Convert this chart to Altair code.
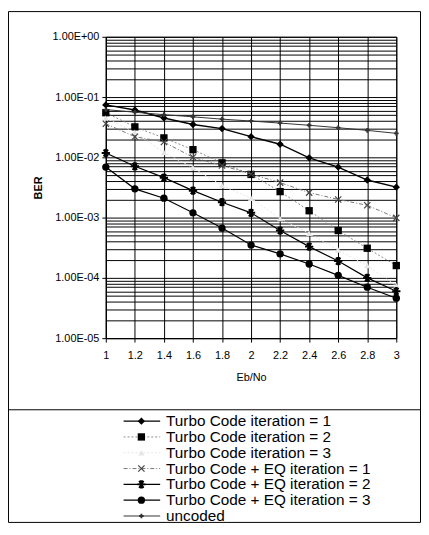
import altair as alt
import pandas as pd

# ---- data ----
x_vals = [1.0, 1.2, 1.4, 1.6, 1.8, 2.0, 2.2, 2.4, 2.6, 2.8, 3.0]
tc_iter1 = [0.074, 0.061, 0.045, 0.035, 0.030, 0.022, 0.0165, 0.0098, 0.0069, 0.0042, 0.0032]
tc_iter2 = [0.055, 0.032, 0.021, 0.0134, 0.0081, 0.0052, 0.0027, 0.0013, 0.00061, 0.00031, 0.00016]
tc_iter3 = [0.045, 0.026, 0.012, 0.0067, 0.0034, 0.0021, 0.00096, 0.00055, 0.00029, 0.00016, 0.000074]
eq_iter1 = [0.036, 0.022, 0.018, 0.0100, 0.0073, 0.0053, 0.0038, 0.0026, 0.0020, 0.0016, 0.00099]
eq_iter2 = [0.0118, 0.0071, 0.0046, 0.0028, 0.0018, 0.0012, 0.00061, 0.00033, 0.00019, 0.00010, 0.00006]
eq_iter3 = [0.0069, 0.0030, 0.0021, 0.0012, 0.00067, 0.00035, 0.00025, 0.00017, 0.00011, 0.00007, 0.000046]
uncoded = [0.062, 0.056, 0.051, 0.047, 0.043, 0.040, 0.037, 0.034, 0.031, 0.028, 0.025]

series_names = [
    "Turbo Code iteration = 1",
    "Turbo Code iteration = 2",
    "Turbo Code iteration = 3",
    "Turbo Code + EQ iteration = 1",
    "Turbo Code + EQ iteration = 2",
    "Turbo Code + EQ iteration = 3",
    "uncoded",
]
series_values = [tc_iter1, tc_iter2, tc_iter3, eq_iter1, eq_iter2, eq_iter3, uncoded]

y_tick_values = [m * 10.0 ** e for e in range(-5, 0) for m in range(1, 10)] + [1.0]

X_SHAPE = "M-1,-1L1,1M-1,1L1,-1"
ASTERISK = "M-1,0L1,0M-0.5,-0.87L0.5,0.87M-0.5,0.87L0.5,-0.87M0,-1L0,1"

styles = [
    dict(line=dict(color="black", strokeWidth=1.4),
         point=dict(shape="diamond", filled=True, color="black", size=55)),
    dict(line=dict(color="#8a8a8a", strokeWidth=1, strokeDash=[2, 2]),
         point=dict(shape="square", filled=True, color="black", size=55)),
    dict(line=dict(color="#e6e6e6", strokeWidth=1, strokeDash=[2, 2]),
         point=dict(shape="triangle-up", filled=True, color="#e6e6e6", size=40)),
    dict(line=dict(color="#777777", strokeWidth=1, strokeDash=[4, 2, 1, 2]),
         point=dict(shape=X_SHAPE, filled=False, color="#444444", size=40, strokeWidth=1.2)),
    dict(line=dict(color="black", strokeWidth=1.2),
         point=dict(shape=ASTERISK, filled=False, color="black", size=70, strokeWidth=2)),
    dict(line=dict(color="black", strokeWidth=1.2),
         point=dict(shape="circle", filled=True, color="black", size=55)),
    dict(line=dict(color="#333333", strokeWidth=1),
         point=dict(shape="cross", filled=True, color="#333333", size=22)),
]

FONT = "Liberation Sans"

exp_expr = "round(log(datum.value)/LN10)"
is_decade = f"abs(log(datum.value)/LN10 - {exp_expr}) < 0.001"
label_expr = (
    f"({is_decade}) ? ('1.00E' + ({exp_expr} >= 0 ? '+' : '-') + "
    f"(abs({exp_expr}) < 10 ? '0' : '') + abs({exp_expr})) : ''"
)

x_enc = alt.X(
    "x:Q",
    scale=alt.Scale(domain=[1, 3], nice=False, zero=False),
    axis=alt.Axis(
        values=x_vals, format="~g", title="Eb/No", grid=True,
        gridColor="black", gridWidth=1, gridOpacity=1,
        tickColor="black", tickSize=4, domainColor="black",
        labelFont=FONT, labelFontSize=11, labelColor="black", labelPadding=8,
        titleFont=FONT, titleFontSize=11, titleFontWeight="normal",
        titleColor="black", titlePadding=11, labelFlush=False,
    ),
)
y_enc = alt.Y(
    "y:Q",
    scale=alt.Scale(type="log", domain=[1e-5, 1], nice=False),
    axis=alt.Axis(
        values=y_tick_values, labelExpr=label_expr, title="BER", grid=True,
        gridColor="black", gridWidth=1, gridOpacity=1,
        tickColor="black", tickSize=4, domainColor="black",
        tickOpacity={"condition": {"test": is_decade, "value": 1}, "value": 0},
        labelFont=FONT, labelFontSize=11, labelColor="black", labelPadding=3,
        labelOverlap=False, labelFlush=False,
        titleFont=FONT, titleFontSize=11, titleFontWeight="bold",
        titleColor="black", titlePadding=9,
    ),
)

plot_layers = []
for vals, st in zip(series_values, styles):
    df = pd.DataFrame({"x": x_vals, "y": vals})
    plot_layers.append(alt.Chart(df).mark_line(**st["line"]).encode(x=x_enc, y=y_enc))
    plot_layers.append(alt.Chart(df).mark_point(opacity=1, **st["point"]).encode(x=x_enc, y=y_enc))
main = alt.layer(*plot_layers)

# ---- legend box below the plot ----
legend_y = alt.Y("row:Q", scale=alt.Scale(domain=[0, 6], range=[389, 485]), axis=None)
legend_layers = []
for i, (name, st) in enumerate(zip(series_names, styles)):
    ldf = pd.DataFrame({"row": [i], "label": [name]})
    legend_layers.append(
        alt.Chart(ldf).mark_rule(**st["line"]).encode(
            x=alt.value(18), x2=alt.value(55), y=legend_y)
    )
    legend_layers.append(
        alt.Chart(ldf).mark_point(opacity=1, **st["point"]).encode(x=alt.value(36), y=legend_y)
    )
label_df = pd.DataFrame({"row": list(range(len(series_names))), "label": series_names})
legend_layers.append(
    alt.Chart(label_df).mark_text(
        align="left", baseline="middle", font=FONT, fontSize=15.5, color="black"
    ).encode(x=alt.value(61), y=legend_y, text="label:N")
)
frame_df = pd.DataFrame({"k": [0]})
legend_layers.append(
    alt.Chart(frame_df).mark_rect(fillOpacity=0, stroke="black", strokeWidth=1).encode(
        x=alt.value(-98.5), x2=alt.value(318.5), y=alt.value(-25.5), y2=alt.value(491.5))
)
legend_layers.append(
    alt.Chart(frame_df).mark_rule(color="black", strokeWidth=1).encode(
        x=alt.value(-98.5), x2=alt.value(318.5), y=alt.value(377.5))
)
legend = alt.layer(*legend_layers)

chart = (
    alt.layer(main, legend)
    .resolve_scale(y="independent")
    .properties(
        width=294, height=305,
        autosize=alt.AutoSizeParams(type="none"),
        padding={"left": 99, "top": 26, "right": 25, "bottom": 187},
        background="white",
    )
    .configure_view(stroke="black", strokeWidth=1)
)

chart.save("out.html", embed_options={"renderer": "svg", "actions": False})
